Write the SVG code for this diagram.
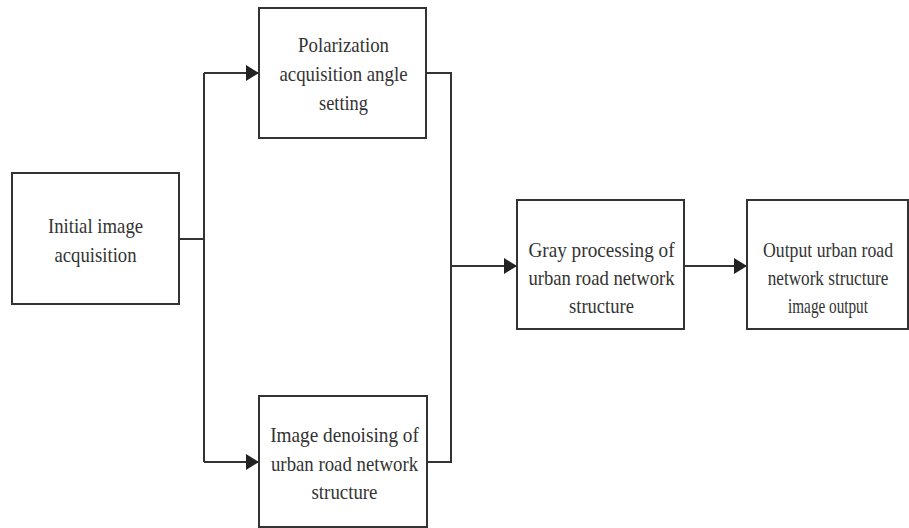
<svg xmlns="http://www.w3.org/2000/svg" width="909" height="528" viewBox="0 0 909 528">
<style>
.box{fill:#fff;stroke:#333;stroke-width:2}
.ln{fill:none;stroke:#333;stroke-width:2}
.t{font-family:'Liberation Serif','Times New Roman','DejaVu Serif',serif;font-size:22px;fill:#333;text-anchor:middle}
</style>
<defs>
<marker id="ah" markerWidth="13" markerHeight="16" refX="13" refY="8" orient="auto" markerUnits="userSpaceOnUse">
<path d="M0,0 L13,8 L0,16 Z" fill="#222"/>
</marker>
</defs>
<rect width="909" height="528" fill="#fff"/>
<g id="connectors">
<path class="ln" d="M179,239 H204"/>
<path class="ln" d="M204,73 V462"/>
<path class="ln" d="M204,73 H259" marker-end="url(#ah)"/>
<path class="ln" d="M204,462 H259" marker-end="url(#ah)"/>
<path class="ln" d="M426,73 H451 V462 H427"/>
<path class="ln" d="M451,266 H517" marker-end="url(#ah)"/>
<path class="ln" d="M684,266 H747" marker-end="url(#ah)"/>
</g>
<g id="n1">
<rect class="box" x="12" y="173" width="167" height="131"/>
<g transform="translate(95.5,0) scale(0.85,1)">
<text class="t" x="0" y="233" textLength="112" lengthAdjust="spacingAndGlyphs">Initial image</text>
<text class="t" x="0" y="262" textLength="96.5" lengthAdjust="spacingAndGlyphs">acquisition</text>
</g>
</g>
<g id="n2">
<rect class="box" x="259" y="8" width="167" height="130"/>
<g transform="translate(343.5,0) scale(0.85,1)">
<text class="t" x="0" y="52" textLength="107" lengthAdjust="spacingAndGlyphs">Polarization</text>
<text class="t" x="0" y="81" textLength="150.6" lengthAdjust="spacingAndGlyphs">acquisition angle</text>
<text class="t" x="0" y="110" textLength="57.6" lengthAdjust="spacingAndGlyphs">setting</text>
</g>
</g>
<g id="n3">
<rect class="box" x="259" y="396" width="168" height="131"/>
<g transform="translate(344.5,0) scale(0.85,1)">
<text class="t" x="0" y="442" textLength="175" lengthAdjust="spacingAndGlyphs">Image denoising of</text>
<text class="t" x="0" y="471" textLength="173" lengthAdjust="spacingAndGlyphs">urban road network</text>
<text class="t" x="0" y="499" textLength="77.6" lengthAdjust="spacingAndGlyphs">structure</text>
</g>
</g>
<g id="n4">
<rect class="box" x="517" y="200" width="167" height="129"/>
<g transform="translate(601.5,0) scale(0.85,1)">
<text class="t" x="0" y="257" textLength="172" lengthAdjust="spacingAndGlyphs">Gray processing of</text>
<text class="t" x="0" y="285" textLength="172" lengthAdjust="spacingAndGlyphs">urban road network</text>
<text class="t" x="0" y="313" textLength="76.5" lengthAdjust="spacingAndGlyphs">structure</text>
</g>
</g>
<g id="n5">
<rect class="box" x="747" y="200" width="161" height="129"/>
<g transform="translate(828,0) scale(0.85,1)">
<text class="t" x="0" y="257" textLength="153" lengthAdjust="spacingAndGlyphs">Output urban road</text>
<text class="t" x="0" y="285" textLength="142" lengthAdjust="spacingAndGlyphs">network structure</text>
<text class="t" x="0" y="313" textLength="94" lengthAdjust="spacingAndGlyphs">image output</text>
</g>
</g>
</svg>
